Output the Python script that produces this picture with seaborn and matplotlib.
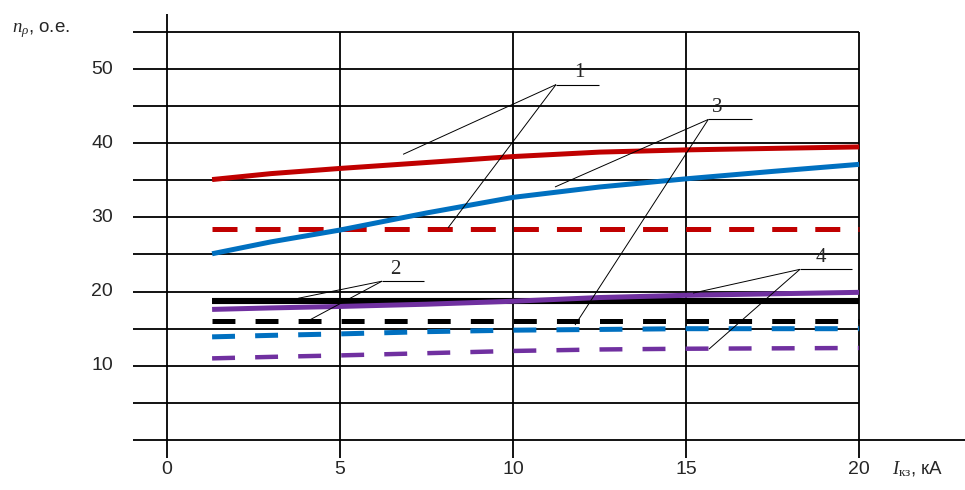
import matplotlib
matplotlib.use("Agg")
import matplotlib.pyplot as plt
import seaborn as sns

sns.set_theme(style="white")
plt.rcParams["font.family"] = ["Liberation Sans", "DejaVu Sans"]
plt.rcParams["mathtext.fontset"] = "custom"
plt.rcParams["mathtext.rm"] = "Liberation Serif"
plt.rcParams["mathtext.it"] = "Liberation Serif:italic"
plt.rcParams["lines.scale_dashes"] = False
plt.rcParams["lines.solid_capstyle"] = "butt"

# Ток КЗ, кА
current = [1.3, 3, 5, 7.5, 10, 12.5, 15, 17.5, 20]

# n_rho, о.е.
red_solid = [35.1, 35.9, 36.6, 37.4, 38.2, 38.8, 39.1, 39.3, 39.5]
red_dashed = [28.4, 28.4, 28.4, 28.4, 28.4, 28.4, 28.4, 28.4, 28.4]
blue_solid = [25.1, 26.7, 28.3, 30.6, 32.7, 34.1, 35.2, 36.2, 37.15]
blue_dashed = [13.9, 14.1, 14.3, 14.6, 14.8, 14.9, 15.0, 15.0, 15.0]
black_solid = [18.7, 18.7, 18.7, 18.7, 18.7, 18.7, 18.7, 18.7, 18.7]
black_dashed = [16.0, 16.0, 16.0, 16.0, 16.0, 16.0, 16.0, 16.0, 16.0]
purple_solid = [17.6, 17.8, 18.0, 18.3, 18.7, 19.2, 19.5, 19.7, 19.9]
purple_dashed = [11.0, 11.2, 11.4, 11.7, 12.0, 12.2, 12.3, 12.35, 12.4]

x_ticks = [0, 5, 10, 15, 20]
y_ticks = [10, 20, 30, 40, 50]
y_grid = [0, 5, 10, 15, 20, 25, 30, 35, 40, 45, 50, 55]

RED, BLUE, BLACK, PURPLE = "#C00000", "#0070C0", "black", "#7030A0"

series = [
    (red_dashed, RED, (0, (18, 13)), 3.6),
    (black_solid, BLACK, "-", 4.4),
    (purple_solid, PURPLE, "-", 3.6),
    (black_dashed, BLACK, (0, (16.5, 14.5)), 3.6),
    (blue_dashed, BLUE, (0, (16.5, 14.5)), 3.6),
    (purple_dashed, PURPLE, (0, (16.5, 14.5)), 3.2),
    (blue_solid, BLUE, "-", 3.6),
    (red_solid, RED, "-", 3.6),
]

# выноски: (подпись, x подписи, полка x0, x1, y, концы линий)
callouts = [
    ("1", 11.9, 11.24, 12.49, 47.9, [(6.82, 38.5), (8.12, 28.6)]),
    ("3", 15.9, 15.64, 16.91, 43.2, [(11.21, 34.1), (11.79, 15.5)]),
    ("2", 6.6, 6.21, 7.43, 21.4, [(3.79, 19.1), (4.05, 16.0)]),
    ("4", 18.9, 18.29, 19.80, 23.0, [(15.2, 19.8), (15.66, 12.25)]),
]

fig = plt.figure(figsize=(9.65, 4.9), dpi=100)
ax = fig.add_axes([0, 0, 1, 1])
ax.set_xlim(-4.83, 23.06)
ax.set_ylim(-6.74, 59.3)
ax.axis("off")

# сетка
ax.hlines(y_grid[1:], -0.98, 20, color="black", lw=1.3, zorder=1)
ax.hlines(0, -0.98, 23.06, color="black", lw=1.3, zorder=1)
ax.vlines(x_ticks[1:], -2.43, 55, color="black", lw=1.3, zorder=1)
ax.vlines(0, -2.43, 57.4, color="black", lw=1.3, zorder=1)

for vals, color, ls, lw in series:
    sns.lineplot(x=current, y=vals, color=color, linestyle=ls, lw=lw,
                 ax=ax, zorder=3)

for label, tx, x0, x1, y, ends in callouts:
    ax.plot([x0, x1], [y, y], color="black", lw=0.8, zorder=4)
    for ex, ey in ends:
        ax.plot([x0, ex], [y, ey], color="black", lw=0.7, zorder=4)
    ax.text(tx, y + 0.3, label, ha="center", va="bottom", fontsize=15,
            family="Liberation Serif", zorder=5)

for v in y_ticks:
    ax.text(-1.56, v, str(v), ha="right", va="center", fontsize=14)
for v in x_ticks:
    ax.text(v, -4.0, str(v), ha="center", va="center", fontsize=14)

ax.text(-4.48, 55.3, r"$n_{\rho}$, о.е.", ha="left", va="center", fontsize=13.5)
ax.text(20.95, -4.0, r"$I_{\mathrm{кз}}$, кА", ha="left", va="center",
        fontsize=13.5)

fig.savefig("out.png", dpi=100)
plt.close(fig)
